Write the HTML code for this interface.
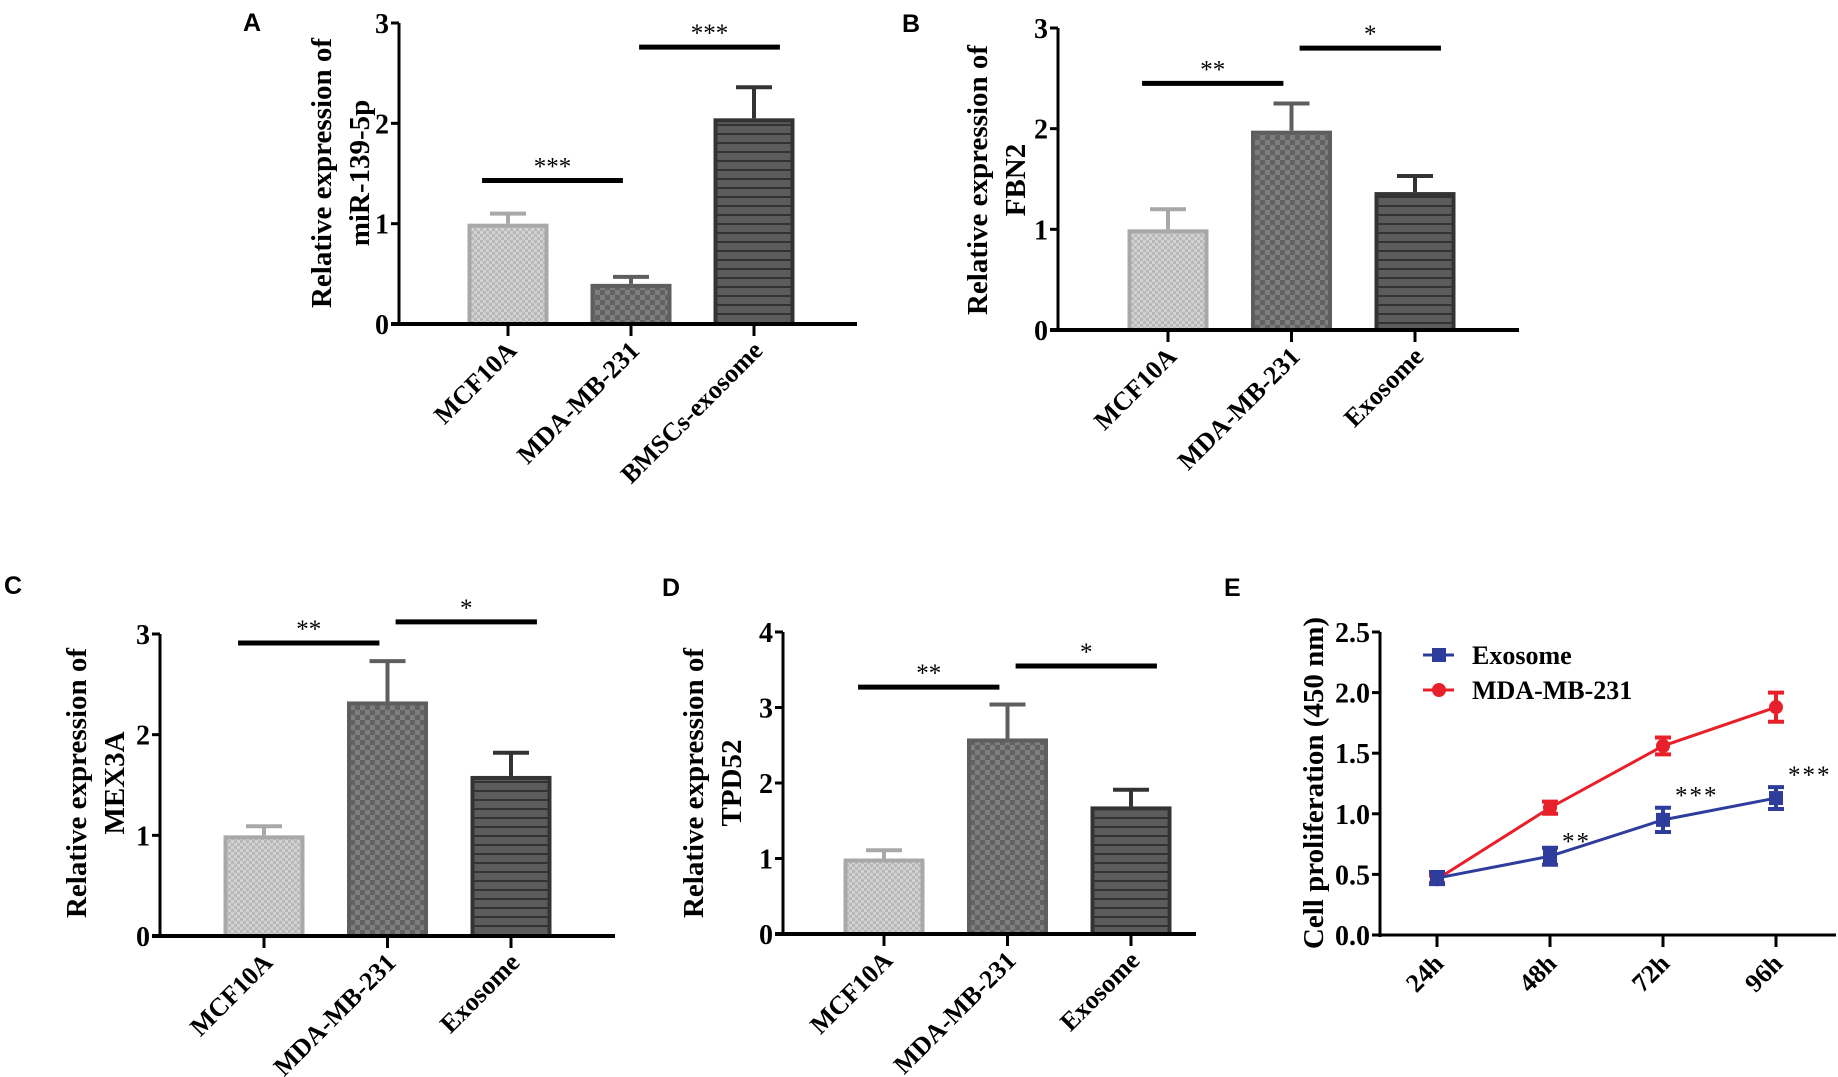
<!DOCTYPE html>
<html><head><meta charset="utf-8"><style>
html,body{margin:0;padding:0;background:#fff;}
svg{display:block;font-family:"Liberation Serif",serif;}
.pl{font-family:"Liberation Sans",sans-serif;font-weight:bold;font-size:25px;}
</style></head><body>
<svg id="fig" width="1838" height="1077" viewBox="0 0 1838 1077" xmlns="http://www.w3.org/2000/svg">
<defs>
<pattern id="pLight" width="6" height="6" patternUnits="userSpaceOnUse"><rect width="6" height="6" fill="#d2d2d2"/><rect width="3" height="3" fill="#b8b8b8"/><rect x="3" y="3" width="3" height="3" fill="#b8b8b8"/></pattern>
<pattern id="pMid" width="10" height="10" patternUnits="userSpaceOnUse"><rect width="10" height="10" fill="#7e7e7e"/><rect width="5" height="5" fill="#626262"/><rect x="5" y="5" width="5" height="5" fill="#626262"/></pattern>
<pattern id="pDark" width="10" height="9" patternUnits="userSpaceOnUse"><rect width="10" height="9" fill="#5c5c5c"/><rect y="7" width="10" height="2" fill="#333"/></pattern>
</defs>
<text class="pl" x="243" y="31">A</text>
<text class="pl" x="902" y="32">B</text>
<text class="pl" x="4" y="594">C</text>
<text class="pl" x="662" y="596">D</text>
<text class="pl" x="1224" y="596">E</text>
</svg>
<script>
// ---- bar chart data ----
const catsA = ["MCF10A","MDA-MB-231","BMSCs-exosome"];
const valsA = [1.0, 0.40, 2.05];
const errA  = [1.10, 0.47, 2.36];
const ticksA = ["0","1","2","3"];
const catsB = ["MCF10A","MDA-MB-231","Exosome"];
const valsB = [1.0, 1.98, 1.37];
const errB  = [1.20, 2.25, 1.53];
const ticksB = ["0","1","2","3"];
const catsC = ["MCF10A","MDA-MB-231","Exosome"];
const valsC = [1.0, 2.33, 1.59];
const errC  = [1.09, 2.73, 1.82];
const ticksC = ["0","1","2","3"];
const catsD = ["MCF10A","MDA-MB-231","Exosome"];
const valsD = [1.0, 2.59, 1.69];
const errD  = [1.11, 3.04, 1.91];
const ticksD = ["0","1","2","3","4"];
// significance: [fromIndex, toIndex, yValue, label]
const sigA = [[0,1,1.43,"***"],[1,2,2.76,"***"]];
const sigB = [[0,1,2.45,"**"],[1,2,2.80,"*"]];
const sigC = [[0,1,2.91,"**"],[1,2,3.12,"*"]];
const sigD = [[0,1,3.27,"**"],[1,2,3.55,"*"]];
// ---- line chart data ----
const timesE = ["24h","48h","72h","96h"];
const exoE = [0.47, 0.65, 0.95, 1.13];
const exoErrE = [0.05, 0.07, 0.10, 0.09];
const mdaE = [0.46, 1.05, 1.56, 1.88];
const mdaErrE = [0.03, 0.05, 0.07, 0.12];
const ticksE = ["0.0","0.5","1.0","1.5","2.0","2.5"];
const sigE = ["", "**", "***", "***"];

const NS="http://www.w3.org/2000/svg";
const svg=document.getElementById('fig');
function mk(tag,attrs,parent,text){const e=document.createElementNS(NS,tag);for(const k in attrs)e.setAttribute(k,attrs[k]);if(text!==undefined)e.textContent=text;(parent||svg).appendChild(e);return e;}

const fills=["url(#pLight)","url(#pMid)","url(#pDark)"];
const strokes=["#a8a8a8","#5e5e5e","#333333"];

function barPanel(id,cats,vals,errs,ticks,sigs,L,titleLines){
  const g=mk('g',{});
  
  
  const ymax=ticks.length-1;
  const y=v=>L.y0-(L.y0-L.yTop)*v/ymax;
  const xc=i=>L.x0+L.first+i*L.step;
  cats.forEach((c,i)=>{
    const top=y(vals[i]), et=y(errs[i]);
    const eb=mk('line',{x1:xc(i),x2:xc(i),y1:top,y2:et,stroke:strokes[i],'stroke-width':4},g);
    
    
    const cap=mk('line',{x1:xc(i)-18,x2:xc(i)+18,y1:et,y2:et,stroke:strokes[i],'stroke-width':4},g);
    
    
    const r=mk('rect',{x:xc(i)-L.bw/2+2,y:top+2,width:L.bw-4,height:L.y0-top-2,fill:fills[i],stroke:strokes[i],'stroke-width':4},g);
    
    
  });
  const ya=mk('line',{x1:L.x0,x2:L.x0,y1:L.yTop,y2:L.y0+2,stroke:'#000','stroke-width':3},g);
  
  
  const xa=mk('line',{x1:L.x0-8,x2:L.xEnd,y1:L.y0,y2:L.y0,stroke:'#000','stroke-width':4},g);
  
  
  ticks.forEach((t,k)=>{
    const yy=y(k);
    mk('line',{x1:L.x0-8,x2:L.x0,y1:yy,y2:yy,stroke:'#000','stroke-width':3},g);
    const tl=mk('text',{x:L.x0-10,y:yy+10,'text-anchor':'end','font-size':28,'font-weight':'bold'},g,t);
    
    
  });
  cats.forEach((c,i)=>{
    mk('line',{x1:xc(i),x2:xc(i),y1:L.y0,y2:L.y0+12,stroke:'#000','stroke-width':3},g);
    const tx=xc(i)+10, ty=L.y0+28;
    const cl=mk('text',{x:tx,y:ty,'text-anchor':'end','font-size':26,'font-weight':'bold',transform:`rotate(-45 ${tx} ${ty})`},g,c);
    
    
  });
  sigs.forEach((s,k)=>{
    const yy=y(s[2]);
    const ln=mk('line',{x1:xc(s[0])-L.bw*0.32,x2:xc(s[1])-L.bw*0.1,y1:yy,y2:yy,stroke:'#000','stroke-width':5},g);
    if(k===1){ln.setAttribute('x1',xc(s[0])+L.bw*0.1);ln.setAttribute('x2',xc(s[1])+L.bw*0.32);}
    
    
    const mid=(parseFloat(ln.getAttribute('x1'))+parseFloat(ln.getAttribute('x2')))/2;
    const st=mk('text',{x:mid,y:yy-6,'text-anchor':'middle','font-size':25},g,s[3]);
    
    
  });
  const tt=mk('text',{transform:`translate(${L.tx} ${L.ty}) rotate(-90)`,'text-anchor':'middle','font-size':29,'font-weight':'bold'},g);
  
  
  titleLines.forEach((ln,k)=>mk('tspan',{x:0,dy:k?38:0},tt,ln));
}

barPanel('a',catsA,valsA,errA,ticksA,sigA,{x0:399,y0:324,yTop:23,xEnd:857,first:109,step:123,bw:81,tx:331,ty:173},["Relative expression of","miR-139-5p"]);
barPanel('b',catsB,valsB,errB,ticksB,sigB,{x0:1058,y0:330,yTop:28,xEnd:1519,first:110,step:123.5,bw:81,tx:987,ty:180},["Relative expression of","FBN2"]);
barPanel('c',catsC,valsC,errC,ticksC,sigC,{x0:160,y0:936,yTop:634,xEnd:615,first:104,step:123.5,bw:81,tx:86,ty:783},["Relative expression of","MEX3A"]);
barPanel('d',catsD,valsD,errD,ticksD,sigD,{x0:783,y0:934,yTop:632,xEnd:1196,first:101,step:123.5,bw:81,tx:703,ty:783},["Relative expression of","TPD52"]);

// ---- panel E ----
(function(){
  const g=mk('g',{});
  
  
  const x0=1380,y0=935,yTop=632,xEnd=1836;
  const ymax=2.5;
  const y=v=>y0-(y0-yTop)*v/ymax;
  const x=i=>1437+i*113;
  const ya=mk('line',{x1:x0,x2:x0,y1:yTop,y2:y0+2,stroke:'#000','stroke-width':3},g);
  
  
  const xa=mk('line',{x1:x0-8,x2:xEnd,y1:y0,y2:y0,stroke:'#000','stroke-width':3},g);
  
  
  ticksE.forEach((t,k)=>{
    const yy=y(k*0.5);
    mk('line',{x1:x0-8,x2:x0,y1:yy,y2:yy,stroke:'#000','stroke-width':3},g);
    const tl=mk('text',{x:x0-10,y:yy+10,'text-anchor':'end','font-size':28,'font-weight':'bold'},g,t);
    
    
  });
  timesE.forEach((t,i)=>{
    mk('line',{x1:x(i),x2:x(i),y1:y0,y2:y0+12,stroke:'#000','stroke-width':3},g);
    const tx=x(i)+8,ty=y0+30;
    const cl=mk('text',{x:tx,y:ty,'text-anchor':'end','font-size':26,'font-weight':'bold',transform:`rotate(-45 ${tx} ${ty})`},g,t);
    
    
  });
  function series(name,vals,errs,color,shape){
    const pts=vals.map((v,i)=>x(i)+','+y(v)).join(' ');
    const pl=mk('polyline',{points:pts,fill:'none',stroke:color,'stroke-width':3},g);
    
    
    vals.forEach((v,i)=>{
      const yt=y(v+errs[i]),yb=y(v-errs[i]);
      const e=mk('path',{d:`M${x(i)},${yt}V${yb}M${x(i)-8},${yt}H${x(i)+8}M${x(i)-8},${yb}H${x(i)+8}`,stroke:color,'stroke-width':4,fill:'none'},g);
      
      
      let m;
      if(shape==='sq') m=mk('rect',{x:x(i)-7,y:y(v)-7,width:14,height:14,fill:color},g);
      else m=mk('circle',{cx:x(i),cy:y(v),r:7,fill:color},g);
      
      
    });
  }
  series('mda-mb-231',mdaE,mdaErrE,'#e8202a','ci');
  series('exosome',exoE,exoErrE,'#2e3d9c','sq');
  sigE.forEach((s,i)=>{
    if(!s) return;
    const st=mk('text',{x:x(i)+12,y:y(exoE[i]+exoErrE[i])+(i===1?2:-4),'font-size':25,'letter-spacing':2},g,s);
    
    
  });
  const lg=mk('g',{},g);
  
  
  const le1=mk('g',{},lg);
  
  
  mk('line',{x1:1423,x2:1454,y1:655,y2:655,stroke:'#2e3d9c','stroke-width':3},le1);
  mk('rect',{x:1432,y:648,width:14,height:14,fill:'#2e3d9c'},le1);
  mk('text',{x:1472,y:664,'font-size':26,'font-weight':'bold'},le1,'Exosome');
  const le2=mk('g',{},lg);
  
  
  mk('line',{x1:1423,x2:1454,y1:690,y2:690,stroke:'#e8202a','stroke-width':3},le2);
  mk('circle',{cx:1439,cy:690,r:7,fill:'#e8202a'},le2);
  mk('text',{x:1472,y:699,'font-size':26,'font-weight':'bold'},le2,'MDA-MB-231');
  const tt=mk('text',{transform:'translate(1323 783) rotate(-90)','text-anchor':'middle','font-size':29,'font-weight':'bold'},g,'Cell proliferation (450 nm)');
  
  
})();
</script>
</body></html>
